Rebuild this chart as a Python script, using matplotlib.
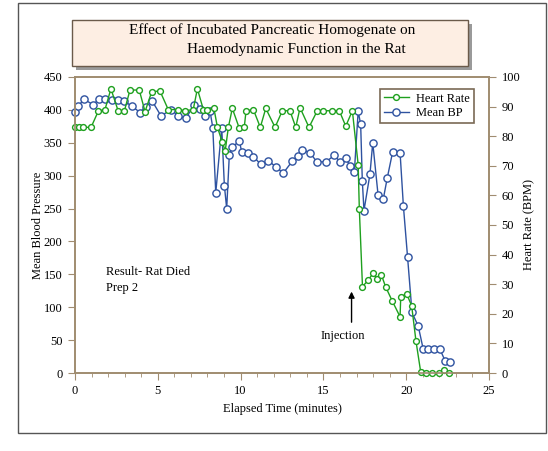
import matplotlib.pyplot as plt
from matplotlib.patches import Rectangle

# mean blood pressure (left axis)
bp_time = [0.0, 0.2, 0.54, 1.1, 1.47, 1.81, 2.22, 2.61, 2.98, 3.42, 3.93, 4.27, 4.67,
           5.19, 5.8, 6.24, 6.7, 7.19, 7.55, 7.85, 8.15, 8.32, 8.5, 8.86, 9.02, 9.16,
           9.32, 9.5, 9.92, 10.07, 10.47, 10.77, 11.23, 11.67, 12.14, 12.58, 13.12,
           13.45, 13.73, 14.19, 14.6, 15.16, 15.66, 16.0, 16.35, 16.6, 16.87, 17.1,
           17.25, 17.35, 17.45, 17.81, 17.98, 18.3, 18.62, 18.86, 19.18, 19.63, 19.83,
           20.08, 20.35, 20.73, 21.03, 21.34, 21.68, 22.04, 22.34, 22.64]
bp = [397, 406, 416, 408, 417, 417, 415, 415, 413, 406, 396, 405, 413,
      391, 400, 391, 387, 408, 401, 391, 399, 373, 274, 373, 285, 250,
      332, 343, 353, 336, 335, 329, 317, 323, 313, 304, 322,
      330, 339, 335, 321, 321, 331, 321, 327, 315, 306, 398,
      378, 292, 247, 302, 350, 271, 265, 297, 336, 335, 254,
      177, 92, 71, 36, 36, 36, 36, 19, 17]

# heart rate (right axis)
hr_time = [0.0, 0.26, 0.5, 0.97, 1.41, 1.81, 2.17, 2.61, 2.98, 3.32, 3.88, 4.23, 4.63,
           5.13, 5.63, 6.24, 6.64, 7.14, 7.39, 7.75, 7.99, 8.39, 8.6, 8.9, 9.07, 9.26,
           9.5, 9.92, 10.22, 10.33, 10.77, 11.19, 11.52, 12.08, 12.52, 12.98, 13.33,
           13.59, 14.13, 14.63, 14.99, 15.54, 15.96, 16.35, 16.75, 17.1, 17.17, 17.36,
           17.7, 18.01, 18.22, 18.5, 18.75, 19.16, 19.63, 19.67, 20.03, 20.33, 20.59,
           20.88, 21.2, 21.58, 21.98, 22.29, 22.58]
hr = [83, 83, 83, 83, 88.5, 89, 96, 88.5, 88.5, 95.6, 95.6, 88.3, 95,
      95.3, 89, 89, 88.6, 89, 96, 89, 89, 89.4, 83, 78, 75, 83,
      89.4, 82.7, 83, 88.6, 89, 83, 89.4, 83, 88.6, 88.6, 83,
      89.6, 83, 88.6, 88.6, 88.6, 88.6, 83.4, 88.6, 70.3, 55.3, 29.2,
      31.3, 33.8, 31.9, 33.2, 29.2, 24.3, 19, 25.8, 26.7, 22.7, 10.8,
      0.2, 0, 0, 0, 1.0, 0]

green = '#1ea01e'
blue = '#2e52a0'
brown = '#a08c70'

plt.rcParams['font.family'] = ['Liberation Serif', 'DejaVu Serif']

fig = plt.figure(figsize=(5.48, 4.51), dpi=100)

# outer frame
fig.patches.append(Rectangle((18/548, 1-433/451), 528/548, 430/451, transform=fig.transFigure,
                             fill=False, edgecolor='#555555', linewidth=1.0))

ax = fig.add_axes([75/548, 1-373/451, 414/548, 296/451])
ax2 = ax.twinx()

ax.plot(bp_time, bp, color=blue, linewidth=1.0, marker='o', markersize=5.2,
        markerfacecolor='white', markeredgecolor=blue, markeredgewidth=1.0,
        label='Mean BP', clip_on=False)
ax2.plot(hr_time, hr, color=green, linewidth=1.0, marker='o', markersize=4.2,
         markerfacecolor='white', markeredgecolor=green, markeredgewidth=1.0,
         label='Heart Rate', clip_on=False)

ax.set_xlim(0, 25)
ax.set_ylim(0, 450)
ax2.set_ylim(0, 100)
ax.set_xticks(range(0, 26, 5))
ax.set_xticks(range(0, 26), minor=True)
ax.set_yticks(range(0, 451, 50))
ax2.set_yticks(range(0, 101, 10))

for a in (ax, ax2):
    for s in a.spines.values():
        s.set_color(brown)
        s.set_linewidth(1.2)
    a.tick_params(which='both', color=brown, labelsize=9, direction='out')
    a.tick_params(which='major', length=5, pad=4)
    a.tick_params(which='minor', length=3)

ax.set_xlabel('Elapsed Time (minutes)', fontsize=9, labelpad=4)
ax.set_ylabel('Mean Blood Pressure', fontsize=9, labelpad=0)
ax2.set_ylabel('Heart Rate (BPM)', fontsize=9, labelpad=2)

ax.text(1.9, 153, 'Result- Rat Died', fontsize=9, va='center')
ax.text(1.9, 129, 'Prep 2', fontsize=9, va='center')
ax.annotate('', xy=(16.7, 128), xytext=(16.7, 73),
            arrowprops=dict(arrowstyle='-|>', color='black', lw=1.0, mutation_scale=9))
ax.text(16.2, 56, 'Injection', fontsize=9, ha='center', va='center')

h1, l1 = ax.get_legend_handles_labels()
h2, l2 = ax2.get_legend_handles_labels()
leg = ax2.legend(h2 + h1, l2 + l1, loc='upper left', bbox_to_anchor=(0.737, 0.96),
                 borderaxespad=0, fontsize=9, fancybox=False, framealpha=1,
                 handlelength=2.0, borderpad=0.3, labelspacing=0.2, handletextpad=0.6)
leg.get_frame().set_edgecolor('#7a6a55')
leg.get_frame().set_linewidth(1.2)

# title box with shadow
tx0, ty0, tw, th = 72/548, 1-66/451, 396/548, 46/451
fig.patches.append(Rectangle((tx0+4/548, ty0-4/451), tw, th, transform=fig.transFigure,
                             facecolor='#9a9a9a', edgecolor='none'))
fig.patches.append(Rectangle((tx0, ty0), tw, th, transform=fig.transFigure,
                             facecolor='#fdeee3', edgecolor='#6b5a4a', linewidth=1.0))
fig.text(272/548, 1-30/451, 'Effect of Incubated Pancreatic Homogenate on',
         ha='center', va='center', fontsize=11)
fig.text(296/548, 1-50/451, 'Haemodynamic Function in the Rat',
         ha='center', va='center', fontsize=11)

fig.savefig('out.png', dpi=100)
